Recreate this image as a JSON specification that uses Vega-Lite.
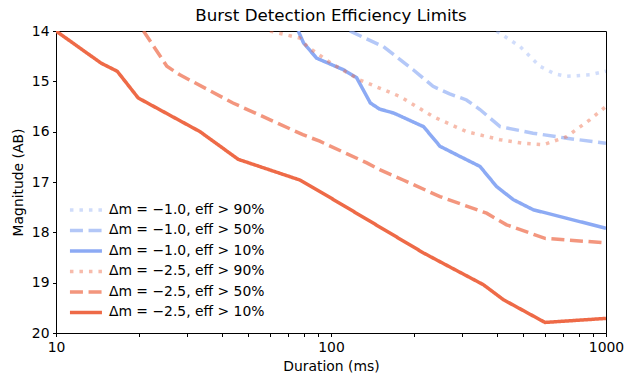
{
  "$schema": "https://vega.github.io/schema/vega-lite/v6.json",
  "width": 550,
  "height": 302,
  "autosize": "none",
  "padding": {"left": 56, "top": 31, "right": 29, "bottom": 52},
  "config": {
    "font": "DejaVu Sans",
    "view": {"stroke": "black", "strokeWidth": 1},
    "axis": {"grid": false, "domainColor": "black", "tickColor": "black", "labelColor": "black", "titleColor": "black", "labelFontSize": 13.9, "titleFontSize": 13.9, "titleFontWeight": "normal", "tickSize": 3.5, "labelPadding": 3.5, "labelFont": "DejaVu Sans", "titleFont": "DejaVu Sans"},
    "legend": {"labelFont": "DejaVu Sans", "labelFontSize": 13.9, "labelColor": "black"}
  },
  "title": {"text": "Burst Detection Efficiency Limits", "fontSize": 16.7, "fontWeight": "normal", "font": "DejaVu Sans", "color": "black", "offset": -1},
  "data": {"values": [
    {"s": "Δm = −1.0, eff > 90%", "d": 400, "m": 14.0},
    {"s": "Δm = −1.0, eff > 90%", "d": 487, "m": 14.31},
    {"s": "Δm = −1.0, eff > 90%", "d": 575, "m": 14.70},
    {"s": "Δm = −1.0, eff > 90%", "d": 650, "m": 14.85},
    {"s": "Δm = −1.0, eff > 90%", "d": 719, "m": 14.90},
    {"s": "Δm = −1.0, eff > 90%", "d": 875, "m": 14.87},
    {"s": "Δm = −1.0, eff > 90%", "d": 1000, "m": 14.80},

    {"s": "Δm = −1.0, eff > 50%", "d": 117, "m": 14.0},
    {"s": "Δm = −1.0, eff > 50%", "d": 155, "m": 14.31},
    {"s": "Δm = −1.0, eff > 50%", "d": 199, "m": 14.77},
    {"s": "Δm = −1.0, eff > 50%", "d": 235, "m": 15.10},
    {"s": "Δm = −1.0, eff > 50%", "d": 270, "m": 15.25},
    {"s": "Δm = −1.0, eff > 50%", "d": 311, "m": 15.37},
    {"s": "Δm = −1.0, eff > 50%", "d": 348, "m": 15.56},
    {"s": "Δm = −1.0, eff > 50%", "d": 412, "m": 15.90},
    {"s": "Δm = −1.0, eff > 50%", "d": 543, "m": 16.03},
    {"s": "Δm = −1.0, eff > 50%", "d": 719, "m": 16.13},
    {"s": "Δm = −1.0, eff > 50%", "d": 1000, "m": 16.23},

    {"s": "Δm = −1.0, eff > 10%", "d": 76, "m": 14.0},
    {"s": "Δm = −1.0, eff > 10%", "d": 79.5, "m": 14.24},
    {"s": "Δm = −1.0, eff > 10%", "d": 88.7, "m": 14.54},
    {"s": "Δm = −1.0, eff > 10%", "d": 111, "m": 14.77},
    {"s": "Δm = −1.0, eff > 10%", "d": 124, "m": 14.93},
    {"s": "Δm = −1.0, eff > 10%", "d": 131, "m": 15.17},
    {"s": "Δm = −1.0, eff > 10%", "d": 139, "m": 15.43},
    {"s": "Δm = −1.0, eff > 10%", "d": 150, "m": 15.55},
    {"s": "Δm = −1.0, eff > 10%", "d": 169, "m": 15.63},
    {"s": "Δm = −1.0, eff > 10%", "d": 217, "m": 15.90},
    {"s": "Δm = −1.0, eff > 10%", "d": 249, "m": 16.29},
    {"s": "Δm = −1.0, eff > 10%", "d": 294, "m": 16.49},
    {"s": "Δm = −1.0, eff > 10%", "d": 348, "m": 16.69},
    {"s": "Δm = −1.0, eff > 10%", "d": 400, "m": 17.09},
    {"s": "Δm = −1.0, eff > 10%", "d": 460, "m": 17.35},
    {"s": "Δm = −1.0, eff > 10%", "d": 543, "m": 17.55},
    {"s": "Δm = −1.0, eff > 10%", "d": 719, "m": 17.72},
    {"s": "Δm = −1.0, eff > 10%", "d": 1000, "m": 17.92},

    {"s": "Δm = −2.5, eff > 90%", "d": 60, "m": 14.0},
    {"s": "Δm = −2.5, eff > 90%", "d": 77, "m": 14.14},
    {"s": "Δm = −2.5, eff > 90%", "d": 82, "m": 14.31},
    {"s": "Δm = −2.5, eff > 90%", "d": 102, "m": 14.67},
    {"s": "Δm = −2.5, eff > 90%", "d": 127, "m": 14.97},
    {"s": "Δm = −2.5, eff > 90%", "d": 135, "m": 15.03},
    {"s": "Δm = −2.5, eff > 90%", "d": 178, "m": 15.30},
    {"s": "Δm = −2.5, eff > 90%", "d": 235, "m": 15.70},
    {"s": "Δm = −2.5, eff > 90%", "d": 311, "m": 16.0},
    {"s": "Δm = −2.5, eff > 90%", "d": 412, "m": 16.16},
    {"s": "Δm = −2.5, eff > 90%", "d": 500, "m": 16.23},
    {"s": "Δm = −2.5, eff > 90%", "d": 592, "m": 16.26},
    {"s": "Δm = −2.5, eff > 90%", "d": 719, "m": 16.10},
    {"s": "Δm = −2.5, eff > 90%", "d": 875, "m": 15.76},
    {"s": "Δm = −2.5, eff > 90%", "d": 1000, "m": 15.50},

    {"s": "Δm = −2.5, eff > 50%", "d": 20.8, "m": 14.0},
    {"s": "Δm = −2.5, eff > 50%", "d": 25.3, "m": 14.70},
    {"s": "Δm = −2.5, eff > 50%", "d": 28.2, "m": 14.87},
    {"s": "Δm = −2.5, eff > 50%", "d": 44, "m": 15.43},
    {"s": "Δm = −2.5, eff > 50%", "d": 79, "m": 16.06},
    {"s": "Δm = −2.5, eff > 50%", "d": 91, "m": 16.19},
    {"s": "Δm = −2.5, eff > 50%", "d": 135, "m": 16.62},
    {"s": "Δm = −2.5, eff > 50%", "d": 151, "m": 16.76},
    {"s": "Δm = −2.5, eff > 50%", "d": 183, "m": 16.96},
    {"s": "Δm = −2.5, eff > 50%", "d": 249, "m": 17.29},
    {"s": "Δm = −2.5, eff > 50%", "d": 368, "m": 17.62},
    {"s": "Δm = −2.5, eff > 50%", "d": 435, "m": 17.85},
    {"s": "Δm = −2.5, eff > 50%", "d": 600, "m": 18.12},
    {"s": "Δm = −2.5, eff > 50%", "d": 1000, "m": 18.21},

    {"s": "Δm = −2.5, eff > 10%", "d": 10, "m": 14.0},
    {"s": "Δm = −2.5, eff > 10%", "d": 14.6, "m": 14.64},
    {"s": "Δm = −2.5, eff > 10%", "d": 16.7, "m": 14.80},
    {"s": "Δm = −2.5, eff > 10%", "d": 19.9, "m": 15.33},
    {"s": "Δm = −2.5, eff > 10%", "d": 33.4, "m": 16.0},
    {"s": "Δm = −2.5, eff > 10%", "d": 46, "m": 16.55},
    {"s": "Δm = −2.5, eff > 10%", "d": 77, "m": 16.96},
    {"s": "Δm = −2.5, eff > 10%", "d": 100, "m": 17.32},
    {"s": "Δm = −2.5, eff > 10%", "d": 217, "m": 18.41},
    {"s": "Δm = −2.5, eff > 10%", "d": 271, "m": 18.69},
    {"s": "Δm = −2.5, eff > 10%", "d": 358, "m": 19.04},
    {"s": "Δm = −2.5, eff > 10%", "d": 424, "m": 19.34},
    {"s": "Δm = −2.5, eff > 10%", "d": 600, "m": 19.79},
    {"s": "Δm = −2.5, eff > 10%", "d": 1000, "m": 19.71}
  ]},
  "mark": {"type": "line", "clip": true, "strokeCap": "butt"},
  "encoding": {
    "x": {"field": "d", "type": "quantitative", "title": "Duration (ms)",
      "scale": {"type": "log", "domain": [10, 1000], "nice": false},
      "axis": {"values": [10, 20, 30, 40, 50, 60, 70, 80, 90, 100, 200, 300, 400, 500, 600, 700, 800, 900, 1000],
        "labelExpr": "indexof([10,100,1000], datum.value) >= 0 ? format(datum.value, 'd') : ''", "titlePadding": 6, "labelFlush": false}},
    "y": {"field": "m", "type": "quantitative", "title": "Magnitude (AB)",
      "scale": {"domain": [14, 20], "reverse": true, "nice": false},
      "axis": {"values": [14, 15, 16, 17, 18, 19, 20], "titlePadding": 6}},
    "color": {"field": "s", "type": "nominal", "title": null,
      "scale": {"domain": ["Δm = −1.0, eff > 90%", "Δm = −1.0, eff > 50%", "Δm = −1.0, eff > 10%", "Δm = −2.5, eff > 90%", "Δm = −2.5, eff > 50%", "Δm = −2.5, eff > 10%"],
        "range": ["#8caaf4", "#8caaf4", "#8caaf4", "#ee6a47", "#ee6a47", "#ee6a47"]},
      "legend": {"orient": "none", "legendX": 23, "legendY": 172, "symbolType": "M-4,0H4", "symbolSize": 64, "symbolStrokeWidth": 3.5, "rowPadding": 5.5, "labelOffset": 16, "padding": 0, "symbolOffset": 0}},
    "strokeDash": {"field": "s", "type": "nominal", "title": null,
      "scale": {"domain": ["Δm = −1.0, eff > 90%", "Δm = −1.0, eff > 50%", "Δm = −1.0, eff > 10%", "Δm = −2.5, eff > 90%", "Δm = −2.5, eff > 50%", "Δm = −2.5, eff > 10%"],
        "range": [[3.5, 6], [13, 5.6], [1, 0], [3.5, 6], [13, 5.6], [1, 0]]}},
    "opacity": {"field": "s", "type": "nominal", "title": null,
      "scale": {"type": "ordinal", "domain": ["Δm = −1.0, eff > 90%", "Δm = −1.0, eff > 50%", "Δm = −1.0, eff > 10%", "Δm = −2.5, eff > 90%", "Δm = −2.5, eff > 50%", "Δm = −2.5, eff > 10%"],
        "range": [0.4, 0.65, 1, 0.45, 0.7, 1]}},
    "strokeWidth": {"value": 3.5}
  }
}
